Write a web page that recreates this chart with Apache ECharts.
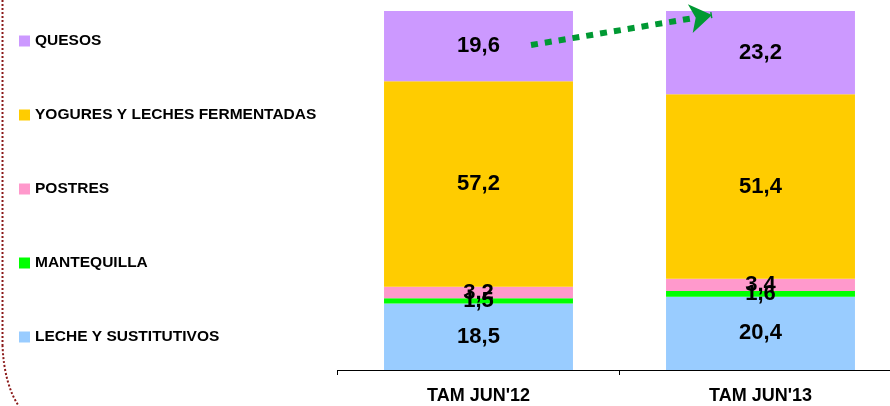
<!DOCTYPE html>
<html>
<head>
<meta charset="utf-8">
<script src="https://cdn.jsdelivr.net/npm/echarts@6/dist/echarts.min.js"></script>
<style>
  html, body { margin: 0; padding: 0; background: #fff; }
  #chart { width: 890px; height: 406px; }
</style>
</head>
<body>
<div id="chart"></div>
<script>
// categories and series (bottom of the stack first)
const categories = ["TAM JUN'12", "TAM JUN'13"];
const leche = [18.5, 20.4];
const mantequilla = [1.5, 1.6];
const postres = [3.2, 3.4];
const yogures = [57.2, 51.4];
const quesos = [19.6, 23.2];

const seriesNames = ['LECHE Y SUSTITUTIVOS', 'MANTEQUILLA', 'POSTRES', 'YOGURES Y LECHES FERMENTADAS', 'QUESOS'];
const seriesValues = [leche, mantequilla, postres, yogures, quesos];
const colors = ['#99CCFF', '#00FF00', '#FF99CC', '#FFCC00', '#CC99FF'];

const font = 'Arial, "Liberation Sans", sans-serif';
const chart = echarts.init(document.getElementById('chart'));

const series = seriesNames.map((name, i) => ({
  name: name,
  type: 'bar',
  stack: 'total',
  barCategoryGap: '33%',
  itemStyle: { color: colors[i] },
  label: {
    show: true,
    position: 'inside',
    color: '#000',
    fontFamily: font,
    fontWeight: 'bold',
    fontSize: 22,
    formatter: p => String(p.value).replace('.', ',')
  },
  data: seriesValues[i]
}));

// green dotted arrow between the two tops
series[4].markLine = {
  silent: true,
  symbol: ['none', 'arrow'],
  symbolSize: [22, 22],
  label: { show: false },
  lineStyle: { color: '#009933', width: 6, type: [7, 7], opacity: 1 },
  data: [[{ x: 531, y: 45 }, { x: 712, y: 15 }]]
};

chart.setOption({
  animation: false,
  legend: {
    orient: 'vertical',
    left: 14,
    top: 28,
    icon: 'rect',
    itemWidth: 11,
    itemHeight: 11,
    itemGap: 58,
    selectedMode: false,
    textStyle: { fontFamily: font, fontWeight: 'bold', fontSize: 15.5, color: '#000' },
    data: ['QUESOS', 'YOGURES Y LECHES FERMENTADAS', 'POSTRES', 'MANTEQUILLA', 'LECHE Y SUSTITUTIVOS']
  },
  grid: { left: 337.5, top: 11, width: 564, bottom: 36, outerBoundsMode: 'none', containLabel: false },
  xAxis: {
    type: 'category',
    data: categories,
    axisLine: { lineStyle: { color: '#000', width: 1 } },
    axisTick: { show: true, length: 5, lineStyle: { color: '#000' } },
    axisLabel: { color: '#000', fontFamily: font, fontWeight: 'bold', fontSize: 18, margin: 17 }
  },
  yAxis: {
    type: 'value',
    min: 0,
    max: 100,
    show: false,
    splitLine: { show: false }
  },
  graphic: [{
    type: 'line',
    silent: true,
    shape: { x1: 2.5, y1: 0, x2: 2.5, y2: 345 },
    style: { stroke: '#8B1A1A', lineWidth: 2, lineDash: [2, 2] }
  }, {
    type: 'bezierCurve',
    silent: true,
    shape: { x1: 2.5, y1: 345, cpx1: 4, cpy1: 385, x2: 20, y2: 408 },
    style: { fill: null, stroke: '#8B1A1A', lineWidth: 2, lineDash: [2, 2] }
  }],
  series: series
});
</script>
</body>
</html>
